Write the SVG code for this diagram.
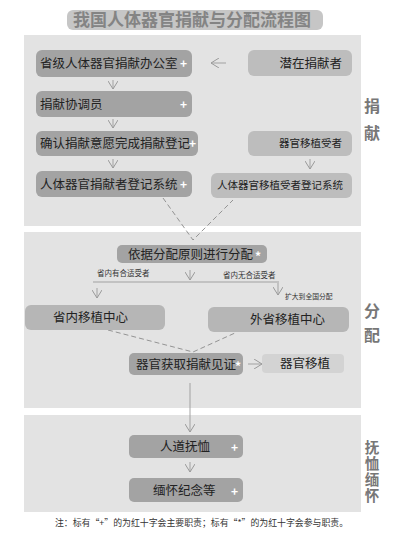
<svg xmlns="http://www.w3.org/2000/svg" width="400" height="556" viewBox="0 0 400 556">
<style>
text{font-family:"Noto Sans CJK SC","Noto Sans",sans-serif}
.panel{fill:#e3e3e3}
.dark{fill:#a3a3a3}
.mid{fill:#b6b6b6}
.light{fill:#bdbdbd}
.pale{fill:#d3d3d3}
.t{font-size:12.5px;fill:#222}
.ts{font-size:10.5px;fill:#222}
.lbl{font-size:7.5px;fill:#333}
.plus{font-size:12px;font-weight:bold;fill:#fff}
.side{font-size:16px;font-weight:bold;fill:#777;text-anchor:middle}
.side2{font-size:14.5px;font-weight:bold;fill:#777;writing-mode:vertical-rl;letter-spacing:1.5px}
.ar{fill:none;stroke:#9a9a9a;stroke-width:0.9}
.dash{fill:none;stroke:#8a8a8a;stroke-width:0.9;stroke-dasharray:5 3}
</style>
<defs>
<marker id="ah" viewBox="0 0 10 10" refX="10" refY="5" markerWidth="10" markerHeight="10" markerUnits="userSpaceOnUse" orient="auto">
<path d="M2,0 L10,5 L2,10" fill="none" stroke="#9a9a9a" stroke-width="1"/>
</marker>
</defs>
<rect width="400" height="556" fill="#fff"/>
<g id="title">
<rect x="67" y="10" width="256" height="20" rx="6" fill="#c6c6c6"/>
<text x="192" y="26" text-anchor="middle" style="font-size:17px;font-weight:bold;fill:#848484">我国人体器官捐献与分配流程图</text>
</g>
<g id="panels">
<rect class="panel" x="24" y="35" width="337" height="191"/>
<rect class="panel" x="24" y="232" width="337" height="176"/>
<rect class="panel" x="24" y="415" width="337" height="97"/>
<text class="side" x="372" y="112">捐</text>
<text class="side" x="372" y="139">献</text>
<text class="side" x="372" y="317">分</text>
<text class="side" x="372" y="341">配</text>
<text class="side2" x="372" y="440">抚恤缅怀</text>
</g>
<g id="connectors">
<path class="ar" d="M226,63 L211,63" marker-end="url(#ah)"/>
<path class="ar" d="M113,80 L113,89" marker-end="url(#ah)"/>
<path class="ar" d="M113,119 L113,128" marker-end="url(#ah)"/>
<path class="ar" d="M113,159 L113,168" marker-end="url(#ah)"/>
<path class="ar" d="M310,159 L310,169" marker-end="url(#ah)"/>
<path class="dash" d="M163,198 L193,240 L233,200"/>
<path class="ar" d="M190,270 L190,280" marker-end="url(#ah)"/>
<path class="ar" d="M93,282 L279,282"/>
<path class="ar" d="M97,288 L97,298" marker-end="url(#ah)"/>
<path class="ar" d="M278,283 L278,295" marker-end="url(#ah)"/>
<path class="dash" d="M108,330 L193,352 L235,333"/>
<path class="ar" d="M248,364 L262,364" marker-end="url(#ah)"/>
<path class="ar" d="M190,383 L190,432" marker-end="url(#ah)"/>
<path class="ar" d="M190,462 L190,472" marker-end="url(#ah)"/>
<text class="lbl" x="97" y="276">省内有合适受者</text>
<text class="lbl" x="223" y="278">省内无合适受者</text>
<text class="lbl" x="285" y="299" style="font-size:6.8px">扩大到全国分配</text>
</g>
<g id="n1"><rect class="dark" x="36" y="50" width="156" height="27" rx="6"/><text class="t" x="40" y="68">省级人体器官捐献办公室</text><text class="plus" x="180" y="68">+</text></g>
<g id="n2"><rect class="light" x="248" y="50" width="104" height="26" rx="6"/><text class="t" x="342" y="68" text-anchor="end">潜在捐献者</text></g>
<g id="n3"><rect class="dark" x="36" y="91" width="156" height="26" rx="6"/><text class="t" x="40" y="109">捐献协调员</text><text class="plus" x="180" y="109">+</text></g>
<g id="n4"><rect class="dark" x="36" y="131" width="162" height="25" rx="6"/><text class="t" x="40" y="148">确认捐献意愿完成捐献登记</text><text class="plus" x="189" y="148">+</text></g>
<g id="n5"><rect class="light" x="248" y="131" width="104" height="25" rx="6"/><text class="ts" x="342" y="147" text-anchor="end">器官移植受者</text></g>
<g id="n6"><rect class="dark" x="36" y="171" width="156" height="26" rx="6"/><text class="t" x="40" y="189">人体器官捐献者登记系统</text><text class="plus" x="180" y="189">+</text></g>
<g id="n7"><rect class="light" x="211" y="173" width="141" height="25" rx="6"/><text class="ts" x="217" y="189">人体器官移植受者登记系统</text></g>
<g id="n8"><rect class="dark" x="117" y="245" width="150" height="18" rx="5"/><text class="t" x="128" y="259">依据分配原则进行分配</text><text class="plus" x="255" y="261">*</text></g>
<g id="n9"><rect class="mid" x="25" y="305" width="140" height="25" rx="6"/><text class="t" x="53" y="322">省内移植中心</text></g>
<g id="n10"><rect class="mid" x="208" y="307" width="141" height="25" rx="6"/><text class="t" x="250" y="324">外省移植中心</text></g>
<g id="n11"><rect class="dark" x="129" y="353" width="114" height="22" rx="5"/><text class="t" x="136" y="369">器官获取捐献见证</text><text class="plus" x="235" y="371">*</text></g>
<g id="n12"><rect class="pale" x="262" y="354" width="82" height="19" rx="4"/><text class="t" x="280" y="368">器官移植</text></g>
<g id="n13"><rect class="dark" x="129" y="435" width="114" height="23" rx="5"/><text class="t" x="160" y="451">人道抚恤</text><text class="plus" x="231" y="452">+</text></g>
<g id="n14"><rect class="dark" x="129" y="478" width="114" height="24" rx="5"/><text class="t" x="153" y="495">缅怀纪念等</text><text class="plus" x="231" y="496">+</text></g>
<g id="note"><text x="55" y="526" style="font-size:8.9px;fill:#333">注：标有“+”的为红十字会主要职责；标有“*”的为红十字会参与职责。</text></g>
</svg>
